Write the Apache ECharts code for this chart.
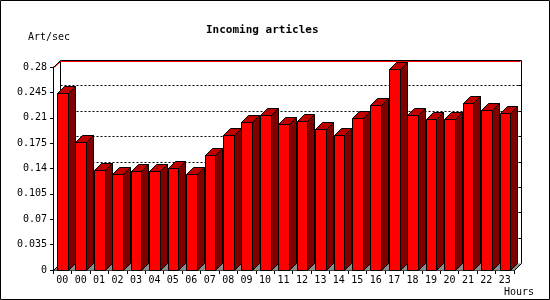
<!DOCTYPE html>
<html>
<head>
<meta charset="utf-8">
<script src="https://cdn.jsdelivr.net/npm/echarts@6/dist/echarts.min.js"></script>
<style>
html,body{margin:0;padding:0;background:#fff;}
#chart{width:550px;height:300px;}
</style>
</head>
<body>
<div id="chart"></div>
<script>
const hours = ['00','00','01','02','03','04','05','06','07','08','09','10','11','12','13','14','15','16','17','18','19','20','21','22','23'];
const rates = [0.244,0.177,0.138,0.132,0.136,0.136,0.141,0.132,0.158,0.186,0.204,0.214,0.201,0.205,0.194,0.186,0.210,0.227,0.277,0.214,0.208,0.208,0.230,0.221,0.216];
const yTickLabels = ['0','0.035','0.07','0.105','0.14','0.175','0.21','0.245','0.28'];
const yStep = 0.035;
const titleText = 'Incoming articles';
const yName = 'Art/sec';
const xName = 'Hours';

const FONT = 'DejaVu Sans Mono';
const D = 7; // 3D depth in px

const chart = echarts.init(document.getElementById('chart'), null, {renderer: 'canvas'});

function px(v){ return Math.round(v) + 0.5; }

function frameItem(params, api) {
  const cs = params.coordSys;
  const x0 = px(cs.x), x1 = px(cs.x + cs.width);
  const yt = px(cs.y), yb = px(cs.y + cs.height);
  const black = {stroke: '#000', lineWidth: 1};
  const red = {stroke: '#ff0000', lineWidth: 1};
  const children = [];
  // floor
  children.push({type: 'polygon', shape: {points: [[x0, yb], [x1, yb], [x1 + D, yb - D], [x0 + D, yb - D]]},
    style: {fill: '#8c8c8c', stroke: null}});
  // back gridlines (dotted) and right-side ticks
  for (let k = 1; k < yTickLabels.length - 1; k++) {
    const y = px(api.coord([0, k * yStep])[1]) - D;
    children.push({type: 'line', shape: {x1: x0 + D, y1: y, x2: x1 + D, y2: y},
      style: {stroke: '#000', lineWidth: 1, lineDash: [2, 2]}});
    children.push({type: 'line', shape: {x1: x1 + D - 3, y1: y, x2: x1 + D, y2: y}, style: black});
  }
  // back plane edges
  children.push({type: 'line', shape: {x1: x0 + D, y1: yt - D, x2: x0 + D, y2: yb - D}, style: black});
  children.push({type: 'line', shape: {x1: x1 + D, y1: yt - D, x2: x1 + D, y2: yb - D}, style: black});
  children.push({type: 'line', shape: {x1: x0 + D, y1: yt - D + 1, x2: x1 + D - 1, y2: yt - D + 1}, style: red});
  children.push({type: 'line', shape: {x1: x0 + D, y1: yt - D, x2: x1 + D, y2: yt - D}, style: black});
  // wall diagonals
  children.push({type: 'line', shape: {x1: x0 + 1, y1: yt, x2: x0 + D + 1, y2: yt - D}, style: red});
  children.push({type: 'line', shape: {x1: x0, y1: yt, x2: x0 + D, y2: yt - D}, style: black});
  children.push({type: 'line', shape: {x1: x0, y1: yb, x2: x0 + D, y2: yb - D}, style: black});
  children.push({type: 'line', shape: {x1: x1, y1: yb, x2: x1 + D, y2: yb - D}, style: black});
  return {type: 'group', children: children};
}

function barItem(params, api) {
  const i = api.value(0), v = api.value(1);
  const top = api.coord([i, v]);
  const base = api.coord([i, 0]);
  const w = api.size([1, 0])[0];
  const cs = top[0] - w / 2;
  const fl = px(cs + 4), fr = px(cs + 14.7);
  const yt = px(top[1]), yb = px(base[1]);
  const st = {stroke: '#000', lineWidth: 1};
  return {type: 'group', children: [
    {type: 'polygon', shape: {points: [[fr, yt], [fr + D, yt - D], [fr + D, yb - D], [fr, yb]]},
      style: Object.assign({fill: '#800000'}, st)},
    {type: 'polygon', shape: {points: [[fl, yt], [fr, yt], [fr + D, yt - D], [fl + D, yt - D]]},
      style: Object.assign({fill: '#c00000'}, st)},
    {type: 'rect', shape: {x: fl, y: yt, width: fr - fl, height: yb - yt},
      style: Object.assign({fill: '#ff0000'}, st)}
  ]};
}

chart.setOption({
  animation: false,
  backgroundColor: '#ffffff',
  title: {
    text: titleText, left: 201, top: 20,
    textStyle: {fontFamily: FONT, fontSize: 11, fontWeight: 'bold', color: '#000'}
  },
  grid: {left: 53, right: 36, top: 67, bottom: 30, containLabel: false},
  xAxis: {
    type: 'category', data: hours, boundaryGap: true,
    axisLine: {lineStyle: {color: '#000', width: 1}},
    axisTick: {show: true, length: 4, lineStyle: {color: '#000'}, alignWithLabel: false},
    axisLabel: {fontFamily: FONT, fontSize: 10, color: '#000', margin: 5, interval: 0},
    splitLine: {show: false}
  },
  yAxis: {
    type: 'value', min: 0, max: 0.28, interval: yStep,
    axisLine: {show: true, lineStyle: {color: '#000', width: 1}},
    axisTick: {show: true, length: 3, lineStyle: {color: '#000'}},
    axisLabel: {fontFamily: FONT, fontSize: 10, color: '#000', margin: 6,
      formatter: function (v) { return yTickLabels[Math.round(v / yStep)]; }},
    splitLine: {show: false}
  },
  graphic: [
    {type: 'rect', shape: {x: 0.5, y: 0.5, width: 549, height: 299}, style: {fill: null, stroke: '#000', lineWidth: 1}, silent: true, z: 100},
    {type: 'text', left: 28, top: 32, style: {text: yName, font: '10px "DejaVu Sans Mono"', fill: '#000'}},
    {type: 'text', left: 504, top: 287, style: {text: xName, font: '10px "DejaVu Sans Mono"', fill: '#000'}}
  ],
  series: [
    {type: 'custom', name: 'frame', data: [[0, 0]], renderItem: frameItem, clip: false, silent: true, z: 1},
    {type: 'custom', name: 'Incoming articles', data: rates.map((v, i) => [i, v]), encode: {x: 0, y: 1},
      renderItem: barItem, clip: false, silent: true, z: 3}
  ]
});
</script>
</body>
</html>
